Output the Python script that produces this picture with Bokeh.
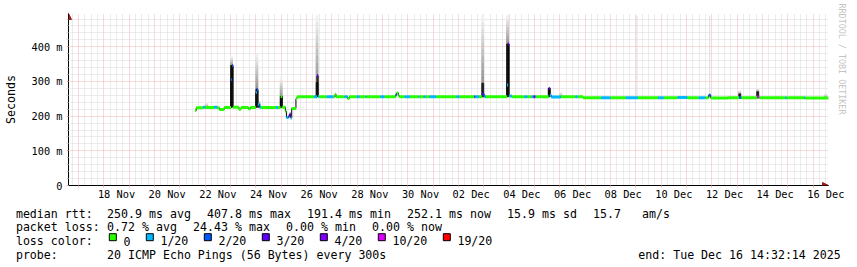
import numpy as np
import pandas as pd
from bokeh.plotting import figure
from bokeh.models import (Range1d, FixedTicker, DatetimeTickFormatter, Title,
                          Arrow, NormalHead)
from bokeh.embed import file_html
from bokeh.resources import INLINE
from bokeh.core.properties import value

# ---------------- data ----------------
END = pd.Timestamp("2025-12-16 14:32:14")
START = END - pd.Timedelta(days=30)

# median rtt (ms) – each value holds until the next timestamp; loss = index into loss_colors
med_time = [
    "2025-11-21 14:30", "2025-11-21 15:30", "2025-11-21 22:00", "2025-11-22 00:00",
    "2025-11-22 08:30", "2025-11-22 11:30", "2025-11-22 13:30", "2025-11-22 18:00",
    "2025-11-23 00:30", "2025-11-23 01:30", "2025-11-23 02:30", "2025-11-23 08:00",
    "2025-11-23 10:00", "2025-11-23 17:00", "2025-11-23 19:00", "2025-11-24 00:00",
    "2025-11-24 01:00", "2025-11-24 02:00", "2025-11-24 03:30", "2025-11-24 05:00",
    "2025-11-24 19:00", "2025-11-24 21:00", "2025-11-24 23:30", "2025-11-25 01:00",
    "2025-11-25 04:00", "2025-11-25 05:00", "2025-11-25 07:00", "2025-11-25 08:00",
    "2025-11-25 09:00", "2025-11-25 10:00", "2025-11-25 14:00", "2025-11-25 15:00",
    "2025-11-26 07:00", "2025-11-26 10:00", "2025-11-26 11:00", "2025-11-26 12:00",
    "2025-11-26 19:00", "2025-11-27 01:30", "2025-11-27 03:00", "2025-11-27 04:00",
    "2025-11-27 12:00", "2025-11-27 15:00", "2025-11-27 16:30", "2025-11-27 23:30",
    "2025-11-28 02:30", "2025-11-28 08:00", "2025-11-28 09:00", "2025-11-28 22:00",
    "2025-11-29 02:00", "2025-11-29 12:30", "2025-11-29 13:30", "2025-11-29 15:00",
    "2025-11-29 16:00", "2025-11-29 21:00", "2025-11-30 02:00", "2025-11-30 10:00",
    "2025-11-30 11:00", "2025-11-30 15:00", "2025-11-30 17:00", "2025-11-30 20:30",
    "2025-12-01 03:00", "2025-12-01 22:00", "2025-12-02 01:00", "2025-12-02 15:00",
    "2025-12-02 16:00", "2025-12-02 19:30", "2025-12-02 22:30", "2025-12-02 23:30",
    "2025-12-03 00:30", "2025-12-03 02:00", "2025-12-03 22:00", "2025-12-03 23:00",
    "2025-12-04 00:00", "2025-12-04 02:30", "2025-12-04 14:30", "2025-12-04 17:30",
    "2025-12-04 21:00", "2025-12-04 23:00", "2025-12-05 01:00", "2025-12-05 13:30",
    "2025-12-05 14:30", "2025-12-05 16:00", "2025-12-06 01:00", "2025-12-06 15:00",
    "2025-12-06 17:00", "2025-12-06 22:00", "2025-12-07 15:00", "2025-12-08 00:00",
    "2025-12-08 14:30", "2025-12-09 02:00", "2025-12-09 21:00", "2025-12-10 02:30",
    "2025-12-10 15:30", "2025-12-11 01:00", "2025-12-11 11:30", "2025-12-11 18:00",
    "2025-12-11 21:00", "2025-12-11 23:00", "2025-12-12 15:00", "2025-12-13 02:00",
    "2025-12-13 04:00", "2025-12-13 19:00", "2025-12-13 21:00", "2025-12-14 21:30",
    "2025-12-14 23:00", "2025-12-15 15:30", "2025-12-15 16:30", "2025-12-16 14:30",
]
med_ms = [
    216, 224, 226, 225, 226, 224, 219, 225,
    305, 346, 226, 220, 225, 221, 225, 268,
    276, 234, 226, 225, 225, 225, 257, 226,
    214, 196, 200, 206, 195, 222, 250, 256,
    256, 317, 257, 256, 256, 256, 263, 256,
    256, 251, 256, 256, 256, 256, 256, 256,
    256, 262, 267, 259, 256, 256, 256, 256,
    256, 256, 256, 256, 256, 256, 256, 256,
    256, 256, 264, 262, 256, 256, 290, 408,
    258, 256, 256, 256, 256, 256, 256, 280,
    260, 255, 256, 256, 256, 253, 253, 253,
    253, 253, 253, 253, 254, 253, 253, 253,
    260, 252, 253, 254, 253, 255, 253, 253,
    253, 253, 252, 252,
]
med_loss = [
    0, 0, 1, 0, 1, 0, 0, 0,
    2, 2, 0, 0, 0, 0, 0, 1,
    2, 1, 1, 0, 1, 0, 0, 0,
    0, 1, 3, 3, 1, 0, 0, 0,
    1, 3, 1, 0, 1, 0, 0, 0,
    1, 0, 0, 1, 0, 1, 0, 1,
    0, 2, 0, 0, 0, 1, 0, 1,
    0, 1, 0, 1, 0, 1, 0, 3,
    1, 0, 3, 2, 1, 0, 1, 3,
    1, 0, 1, 0, 1, 3, 0, 3,
    1, 1, 0, 1, 0, 0, 1, 0,
    1, 0, 1, 0, 1, 0, 1, 0,
    2, 0, 0, 2, 0, 5, 0, 1,
    0, 1, 0, 0,
]

# smoke (ping spread) around spikes: base, dense core top, lightest top (ms)
smoke_time = ["2025-11-22 01:30", "2025-11-23 01:00", "2025-11-24 01:00", "2025-11-24 03:00",
              "2025-11-25 00:00", "2025-11-26 10:00", "2025-12-02 23:00", "2025-12-03 22:30",
              "2025-12-05 14:00", "2025-12-06 01:00", "2025-12-13 02:30", "2025-12-13 19:30",
              "2025-12-14 14:00", "2025-12-16 12:00"]
smoke_low = [225, 226, 226, 226, 226, 256, 256, 256, 256, 256, 253, 253, 253, 253]
smoke_core = [225, 346, 278, 234, 257, 297, 295, 408, 280, 256, 264, 270, 253, 253]
smoke_high = [239, 372, 380, 245, 311, 490, 490, 490, 283, 269, 274, 281, 259, 265]

# single far outliers (faint traces)
faint_time = ["2025-12-09 01:00", "2025-12-11 22:00"]
faint_low = [253, 253]
faint_high = [490, 490]

loss_labels = ["0", "1/20", "2/20", "3/20", "4/20", "10/20", "19/20"]
loss_colors = ["#26ff00", "#00b8ff", "#0059ff", "#5e00ff", "#7e00ff", "#dd00ff", "#ff0000"]

y_ticks = [0, 100, 200, 300, 400]
y_tick_labels = ["0", "100 m", "200 m", "300 m", "400 m"]

median_stats = ["250.9 ms avg", "407.8 ms max", "191.4 ms min", "252.1 ms now",
                "15.9 ms sd", "15.7", "am/s"]
loss_stats = ["0.72 % avg", "24.43 % max", "0.00 % min", "0.00 % now"]
probe_text = "20 ICMP Echo Pings (56 Bytes) every 300s"
end_text = "end: Tue Dec 16 14:32:14 2025"

# ---------------- helpers ----------------
def ms(ts):
    return pd.Timestamp(ts).value / 1e6

MONO = "DejaVu Sans Mono"
MAJOR = "#f0b4b4"
MINOR = "#d9d9d9"
ARROW = "#a01818"

W_PX = 857
H1 = 206                                   # chart canvas height
FL, FR, FT, FB = 66, 828, 13, 185          # frame edges in pixels
Y_TOP = 496
MS_PER_PX = (ms(END) - ms(START)) / (FR - FL)
V_PER_PX = Y_TOP / (FB - FT)

# ---------------- chart ----------------
p = figure(width=W_PX, height=H1, x_axis_type="datetime",
           x_range=Range1d(ms(START), ms(END)), y_range=Range1d(0, Y_TOP),
           output_backend="svg", toolbar_location=None,
           min_border_left=FL, min_border_right=W_PX - FR, min_border_top=FT,
           min_border_bottom=H1 - FB,
           background_fill_color="white", border_fill_color="white",
           outline_line_color=None)

noons = [ms(t) for t in pd.date_range("2025-11-18 12:00", "2025-12-16 12:00", freq="2D")]
midnights = [ms(t) for t in pd.date_range("2025-11-17", "2025-12-16", freq="D")]
sixh = [ms(t) for t in pd.date_range("2025-11-16 18:00", "2025-12-16 12:00", freq="6h")
        if t.hour != 0]

p.xgrid.ticker = FixedTicker(ticks=midnights, minor_ticks=sixh)
p.xgrid.grid_line_color = MAJOR
p.xgrid.grid_line_dash = "1 1"
p.xgrid.minor_grid_line_color = MINOR
p.xgrid.minor_grid_line_dash = "1 1"

ymin = [v for v in range(20, Y_TOP, 20) if v % 100 != 0]
p.ygrid.ticker = FixedTicker(ticks=[100, 200, 300, 400], minor_ticks=ymin)
p.ygrid.grid_line_color = MAJOR
p.ygrid.grid_line_dash = "1 1"
p.ygrid.minor_grid_line_color = MINOR
p.ygrid.minor_grid_line_dash = "1 1"

xa = p.xaxis[0]
xa.ticker = FixedTicker(ticks=noons, minor_ticks=midnights)
fmt = "%d %b"
xa.formatter = DatetimeTickFormatter(days=fmt, months=fmt, hours=fmt, hourmin=fmt,
                                     minutes=fmt, years=fmt)
xa.major_tick_line_color = None
xa.major_tick_out = 0
xa.major_tick_in = 0
xa.minor_tick_line_color = MAJOR
xa.minor_tick_out = 2
xa.minor_tick_in = 0
xa.major_label_standoff = 0
xa.major_label_text_font = MONO
xa.major_label_text_font_size = "10.3px"
xa.major_label_text_color = "black"
xa.axis_line_color = "black"

ya = p.yaxis[0]
ya.ticker = FixedTicker(ticks=y_ticks, minor_ticks=ymin)
ya.major_label_overrides = dict(zip(y_ticks, y_tick_labels))
ya.major_tick_line_color = MAJOR
ya.major_tick_out = 2
ya.major_tick_in = 0
ya.minor_tick_line_color = MINOR
ya.minor_tick_out = 2
ya.minor_tick_in = 0
ya.major_label_standoff = 4
ya.major_label_text_font = MONO
ya.major_label_text_font_size = "10.3px"
ya.major_label_text_color = "black"
ya.axis_line_color = "black"
ya.axis_label = "Seconds"
ya.axis_label_text_font = MONO
ya.axis_label_text_font_size = "11.6px"
ya.axis_label_text_font_style = "normal"
ya.axis_label_text_color = "black"
ya.axis_label_standoff = 11

p.add_layout(Title(text="RRDTOOL / TOBI OETIKER", align="left", text_font=MONO,
                   text_font_size="8.4px", text_font_style="normal",
                   text_color="#c4c4c4", standoff=17, offset=-10), "right")

# smoke
W = 1.8 * 3600 * 1000
st = [ms(t) for t in smoke_time]
lo = np.array(smoke_low, float)
core = np.array(smoke_core, float)
hi = np.array(smoke_high, float)
NB = 10
for j in range(NB):
    b = core + (hi - core) * j / NB
    t = core + (hi - core) * (j + 1) / NB
    g = int(0x98 + (0xf0 - 0x98) * j / (NB - 1))
    p.vbar(x=st, bottom=b, top=t, width=W, color="#%02x%02x%02x" % (g, g, g))
p.vbar(x=st, bottom=lo, top=core, width=W, color="#1c1c1c")

ft = [ms(t) for t in faint_time]
p.segment(x0=ft, x1=ft, y0=faint_low, y1=faint_high, line_color="#dcdcdc", line_width=1)

# median line
mt = [ms(t) for t in med_time]
p.step(x=mt, y=med_ms, mode="after", line_color="black", line_width=1)
p.segment(x0=mt[:-1], x1=mt[1:], y0=med_ms[:-1], y1=med_ms[:-1],
          line_color=[loss_colors[k] for k in med_loss[:-1]], line_width=3,
          line_cap="butt")

# axis arrows (heads at the frame ends)
x_tip = ms(END)
p.add_layout(Arrow(end=NormalHead(size=6, fill_color=ARROW, line_color=ARROW, line_width=1),
                   x_start=x_tip - 6 * MS_PER_PX, y_start=0, x_end=x_tip, y_end=0,
                   line_color="black", line_width=1))
p.add_layout(Arrow(end=NormalHead(size=6, fill_color=ARROW, line_color=ARROW, line_width=1),
                   x_start=ms(START), y_start=Y_TOP - 6 * V_PER_PX, x_end=ms(START),
                   y_end=Y_TOP, line_color="black", line_width=1))

# ---------------- legend (second canvas, pixel coordinates) ----------------
H2 = 267 - H1
p2 = figure(width=W_PX, height=H2, x_range=Range1d(0, W_PX), y_range=Range1d(H2, 0),
            output_backend="svg", toolbar_location=None, min_border=0,
            x_axis_location=None, y_axis_location=None, outline_line_color=None,
            background_fill_color="white", border_fill_color="white")
p2.grid.visible = False

DY = -2.5
base = [215.8 - H1 + DY, 229.4 - H1 + DY, 243.3 - H1 + DY, 256.7 - H1 + DY]
tx, ty, tt = [], [], []

def add(x, y, s):
    tx.append(x); ty.append(y); tt.append(s)

add(15.4, base[0], "median rtt:")
x = 106.6
for s in median_stats[:5]:
    add(x, base[0], s)
    x += 7 * (len(s) + 2) + 2
add(x, base[0], median_stats[5])
add(x + 49, base[0], median_stats[6])

add(15.4, base[1], "packet loss:")
x = 106.6
for s in loss_stats:
    add(x, base[1], s)
    x += 7 * (len(s) + 2) + 2

add(15.4, base[2], "loss color:")
bx = []
x = 108.3
for s in loss_labels:
    bx.append(x)
    add(x + 14.6, base[2], s)
    x += 14 + 7 * (len(s) + 2) + 2

add(15.4, base[3], "probe:")
add(106.6, base[3], probe_text)
add(637.8, base[3], end_text)

p2.text(x=tx, y=ty, text=tt, text_font=value(MONO), text_font_size=value("11.6px"),
        text_baseline="alphabetic", text_align="left", text_color="black")
p2.rect(x=[b + 4 for b in bx], y=[239.2 - H1 + DY] * len(bx), width=7, height=7,
        fill_color=loss_colors, line_color="black", line_width=1)

open("out.html", "w").write(file_html([p, p2], INLINE))
